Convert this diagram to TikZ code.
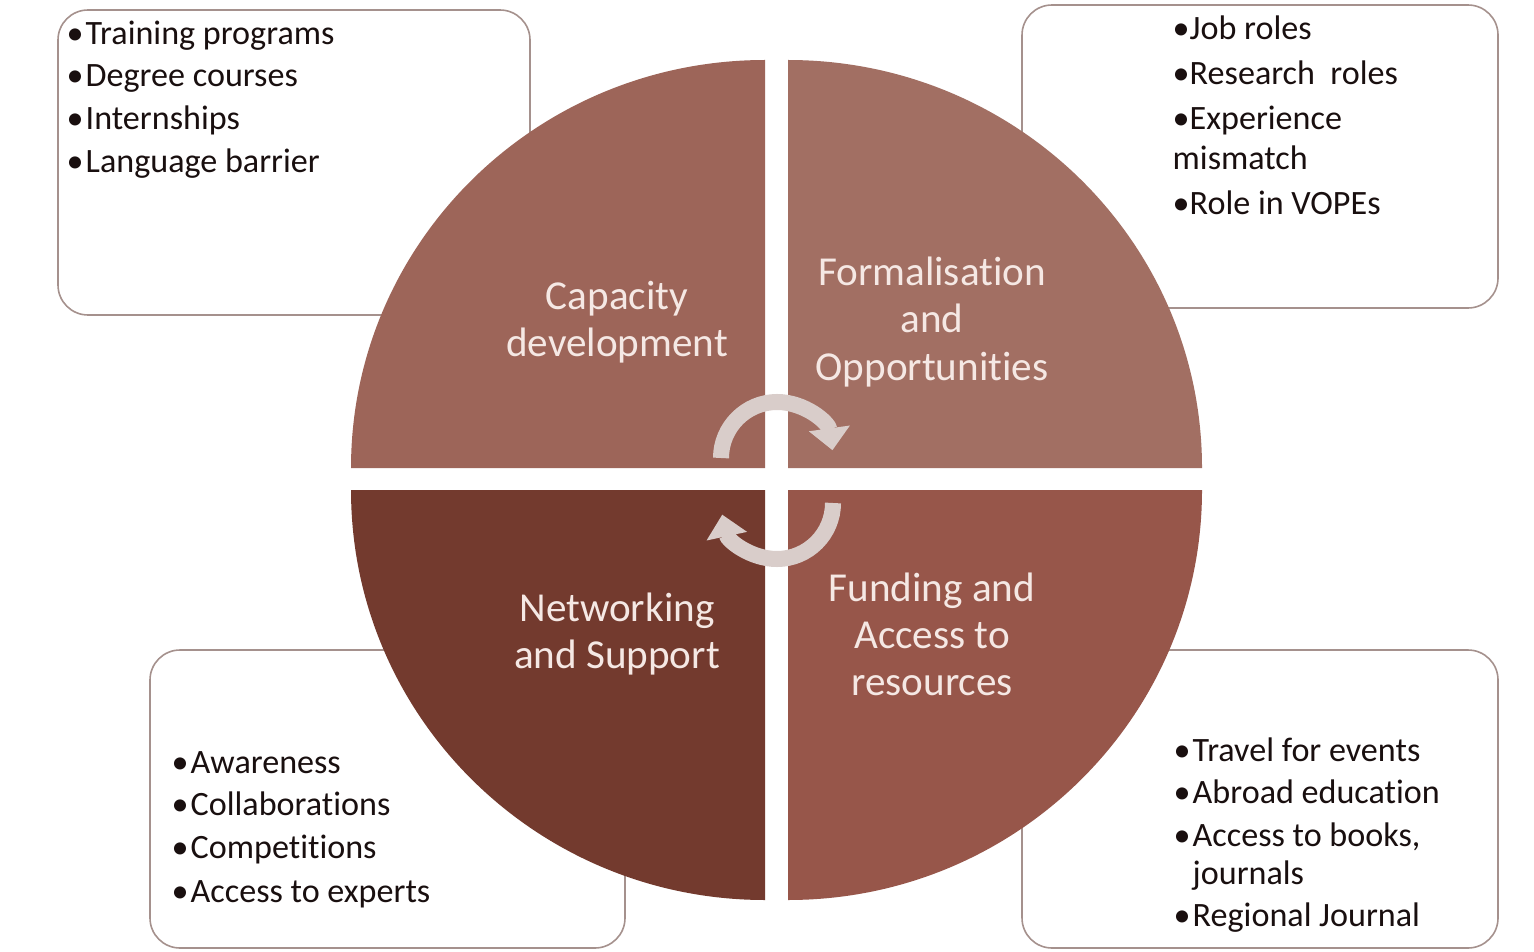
\documentclass[tikz,border=0pt]{standalone}
\usepackage{fontspec}
\setmainfont[Ligatures=NoCommon]{Carlito}
\usetikzlibrary{arrows.meta}
\definecolor{tlfill}{RGB}{157,101,89}
\definecolor{trfill}{RGB}{162,111,99}
\definecolor{blfill}{RGB}{115,58,46}
\definecolor{brfill}{RGB}{151,86,74}
\definecolor{labtext}{RGB}{245,232,228}
\definecolor{arrowcol}{RGB}{217,205,202}
\definecolor{boxline}{RGB}{165,145,141}
\definecolor{itemtext}{RGB}{25,15,15}
\newcommand{\bul}[1]{\makebox[#1][l]{\textbullet}}
\tikzset{
  box/.style={draw=boxline, line width=0.45pt, fill=white, rounded corners=0.3cm},
  bulletline/.style={anchor=base west, inner sep=0pt, text=itemtext, font=\fontsize{9.7}{11}\selectfont},
  quadlabel/.style={align=center, inner sep=0pt, text=labtext, font=\fontsize{11.7}{13.4}\selectfont},
  cyclearrow/.style={draw=arrowcol, line width=0.16cm, -{Triangle[length=0.22cm, width=0.4cm]}}
}
\begin{document}
\begin{tikzpicture}[x=0.01cm, y=-0.01cm]
\useasboundingbox[fill=white] (0,0) rectangle (1534,952);
\draw[box] (58,10) rectangle (530,315);
\draw[box] (1022,5) rectangle (1498,308);
\draw[box] (150,650) rectangle (625,948);
\draw[box] (1022,650) rectangle (1498,948);
\fill[tlfill] (765,468) -- ++(-414,0) arc[start angle=180, end angle=270, x radius=414, y radius=408] -- cycle;
\fill[trfill] (788,468) -- ++(0,-408) arc[start angle=270, end angle=360, x radius=414, y radius=408] -- cycle;
\fill[blfill] (765,490) -- ++(-414,0) arc[start angle=180, end angle=90, x radius=414, y radius=410] -- cycle;
\fill[brfill] (788,490) -- ++(414,0) arc[start angle=0, end angle=90, x radius=414, y radius=410] -- cycle;
\node[quadlabel] (capdev) at (617,322) {Capacity\\development};
\node[quadlabel] (formal) at (932,322) {Formalisation\\and\\Opportunities};
\node[quadlabel] (network) at (617,634) {Networking\\and Support};
\node[quadlabel] (funding) at (932,634) {Funding and\\Access to\\resources};
\draw[cyclearrow] (721,458) arc[start angle=180, end angle=352, radius=56];
\draw[cyclearrow] (833,503) arc[start angle=0, end angle=168, radius=56];
\node[bulletline] (tl1) at (66,45) {\bul{0.19cm}Training programs};
\node[bulletline] (tl2) at (66,87) {\bul{0.19cm}Degree courses};
\node[bulletline] (tl3) at (66,130) {\bul{0.19cm}Internships};
\node[bulletline] (tl4) at (66,173) {\bul{0.19cm}Language barrier};
\node[bulletline] (tr1) at (1172,40) {\bul{0.17cm}Job roles};
\node[bulletline] (tr2) at (1172,85) {\bul{0.17cm}Research\ \ roles};
\node[bulletline] (tr3) at (1172,130) {\bul{0.17cm}Experience};
\node[bulletline] (tr4) at (1172,170) {mismatch};
\node[bulletline] (tr5) at (1172,215) {\bul{0.17cm}Role in VOPEs};
\node[bulletline] (bl1) at (171,773) {\bul{0.19cm}Awareness};
\node[bulletline] (bl2) at (171,815) {\bul{0.19cm}Collaborations};
\node[bulletline] (bl3) at (171,858) {\bul{0.19cm}Competitions};
\node[bulletline] (bl4) at (171,902) {\bul{0.19cm}Access to experts};
\node[bulletline] (br1) at (1173,761) {\bul{0.19cm}Travel for events};
\node[bulletline] (br2) at (1173,803) {\bul{0.19cm}Abroad education};
\node[bulletline] (br3) at (1173,846) {\bul{0.19cm}Access to books,};
\node[bulletline] (br4) at (1192,884) {journals};
\node[bulletline] (br5) at (1173,926) {\bul{0.19cm}Regional Journal};
\end{tikzpicture}
\end{document}
